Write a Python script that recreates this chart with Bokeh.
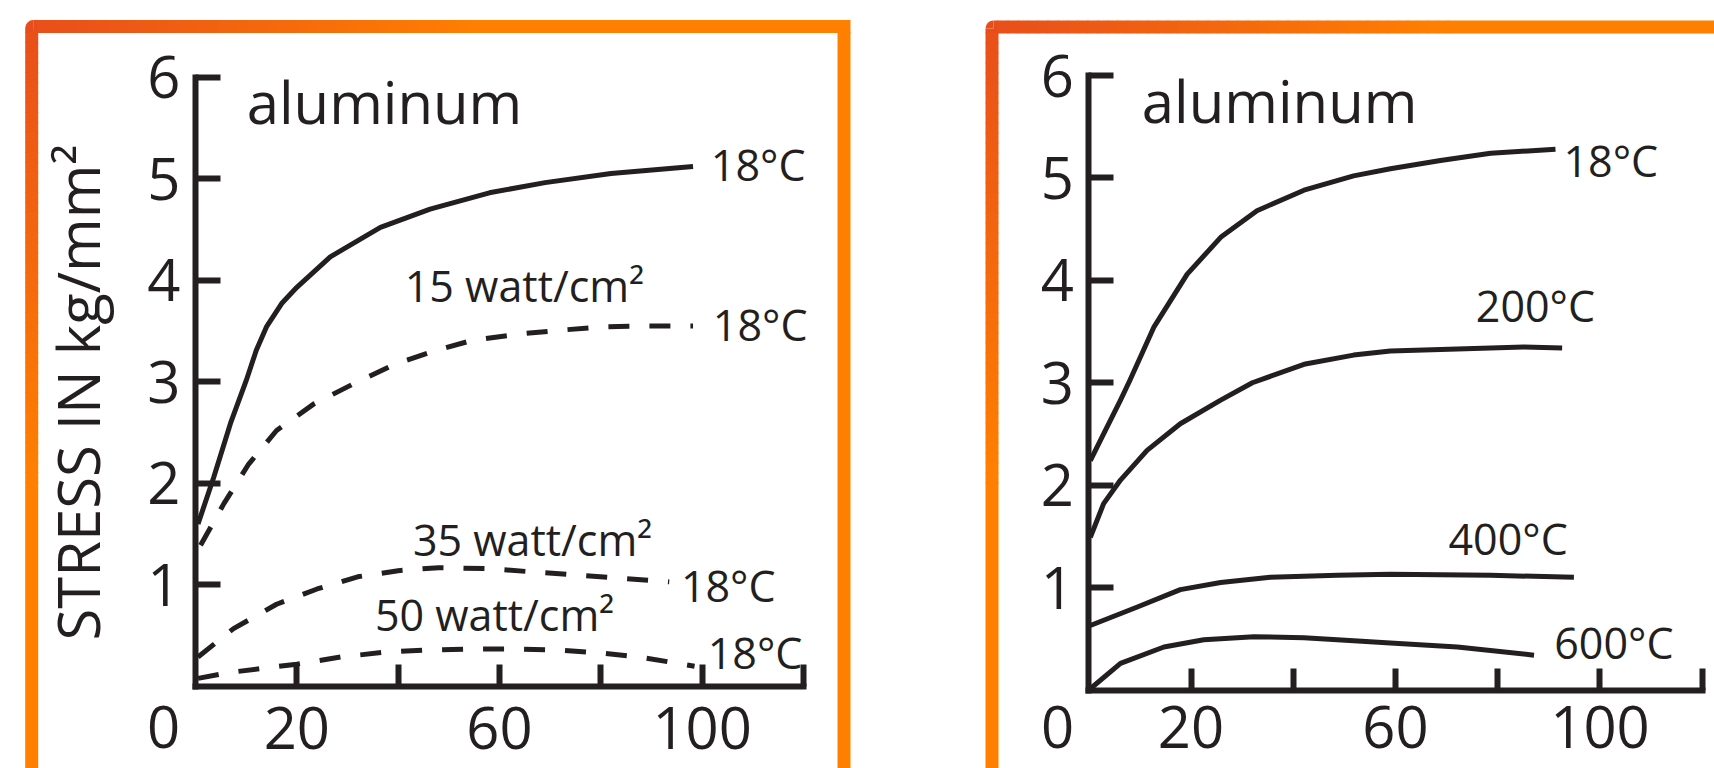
from math import pi
from bokeh.plotting import figure
from bokeh.layouts import row
from bokeh.models import Range1d, FixedTicker, Label
from bokeh.embed import file_html
from bokeh.resources import INLINE

INK = "#231F20"
FONT = "Open Sans"

# ---------------- data ----------------
x_ticks = [20, 40, 60, 80, 100, 120]
x_tick_labels = {20: "20", 40: "", 60: "60", 80: "", 100: "100", 120: ""}
y_ticks = [1, 2, 3, 4, 5, 6]

# left panel: aluminum, 18 °C, various heat fluxes
left_solid_x = [0.5, 3.6, 6.9, 10, 12, 14, 17, 20, 26.6, 36.5, 46.3, 58, 69, 82, 98.2]
left_solid_y = [1.60, 2.06, 2.59, 3.01, 3.31, 3.54, 3.77, 3.93, 4.23, 4.52, 4.70, 4.86, 4.96, 5.05, 5.12]
w15_x = [1, 5.6, 10.5, 16, 23.3, 31.2, 39.7, 47.6, 54.8, 64, 72.6, 80.5, 89, 98.2]
w15_y = [1.39, 1.80, 2.19, 2.52, 2.78, 2.98, 3.18, 3.31, 3.41, 3.47, 3.51, 3.54, 3.55, 3.55]
w35_x = [0.5, 7.5, 16, 24, 32, 40, 48, 58, 66, 74.5, 83, 93.5]
w35_y = [0.29, 0.57, 0.81, 0.96, 1.08, 1.14, 1.17, 1.16, 1.13, 1.10, 1.07, 1.03]
w50_x = [0.5, 7, 20, 28.6, 37.8, 46.3, 54.8, 62.7, 71.3, 79.8, 87.7, 98.5]
w50_y = [0.08, 0.14, 0.22, 0.29, 0.34, 0.36, 0.37, 0.37, 0.36, 0.33, 0.29, 0.20]

# right panel: aluminum at various temperatures
t18_x = [0.3, 2.9, 6.2, 8.0, 12.7, 19.25, 25.8, 32.9, 42.1, 51.8, 59, 68.8, 78.6, 91.3]
t18_y = [2.24, 2.50, 2.83, 3.02, 3.54, 4.06, 4.42, 4.68, 4.88, 5.02, 5.09, 5.17, 5.24, 5.28]
t200_x = [0.3, 2.9, 6.2, 11.4, 17.9, 25.8, 32, 42.1, 51.8, 59, 72.1, 85.1, 92.6]
t200_y = [1.49, 1.82, 2.05, 2.34, 2.60, 2.83, 3.00, 3.18, 3.27, 3.31, 3.33, 3.35, 3.34]
t400_x = [0.3, 9.5, 17.9, 25.8, 35.5, 48.6, 59, 78.6, 94.9]
t400_y = [0.63, 0.81, 0.98, 1.05, 1.10, 1.12, 1.13, 1.12, 1.10]
t600_x = [0.0, 6.2, 14.7, 22.5, 32.3, 42.1, 51.8, 59, 72.1, 87.1]
t600_y = [0.00, 0.26, 0.42, 0.49, 0.52, 0.51, 0.48, 0.46, 0.42, 0.34]

title_text = "aluminum"
y_title = "STRESS IN kg/mm²"
left_label_text = ["18°C", "15 watt/cm²", "18°C", "35 watt/cm²", "18°C", "50 watt/cm²", "18°C"]
left_label_x = [102.1, 41.7, 102.5, 43.3, 96.2, 35.8, 101.5]
left_label_y = [4.974, 3.783, 3.406, 1.290, 0.830, 0.551, 0.177]
right_label_text = ["18°C", "200°C", "400°C", "600°C"]
right_label_x = [93.26, 76.1, 70.76, 91.44]
right_label_y = [5.008, 3.592, 1.323, 0.305]

# ---------------- layout (pixels) ----------------
H = 768
W_LEFT, W_RIGHT = 968, 746
# pixel positions of data (0, 0) and (120, 6) inside each canvas
L_GEOM = dict(x0=195.0, x1=803.0, y0=686.0, y1=76.5)
R_GEOM = dict(x0=1088.3 - W_LEFT, x1=1701.7 - W_LEFT, y0=689.5, y1=75.0)
BASE_SHIFT = 0.38   # em; lifts Label text so its alphabetic baseline sits on the anchor


def mix(t):
    c0 = (232, 78, 27)
    c1 = (255, 128, 0)
    t = max(0.0, min(1.0, t))
    return "#%02x%02x%02x" % tuple(round(a + (b - a) * t) for a, b in zip(c0, c1))


def make_panel(width, g, std_x):
    sx = (g["x1"] - g["x0"]) / 120.0
    sy = (g["y0"] - g["y1"]) / 6.0
    xr = Range1d(-g["x0"] / sx, (width - g["x0"]) / sx)
    yr = Range1d((g["y0"] - H) / sy, g["y0"] / sy)
    p = figure(width=width, height=H, x_range=xr, y_range=yr,
               output_backend="svg", toolbar_location=None, min_border=0)
    p.grid.visible = False
    p.outline_line_color = None
    p.background_fill_color = "white"
    p.border_fill_color = "white"
    xa, ya = p.xaxis[0], p.yaxis[0]
    xa.ticker = FixedTicker(ticks=x_ticks)
    xa.major_label_overrides = x_tick_labels
    ya.ticker = FixedTicker(ticks=y_ticks)
    xa.fixed_location = 0
    ya.fixed_location = 0
    xa.bounds = (0, 120)
    ya.bounds = (0, 6)
    for ax in (xa, ya):
        ax.axis_line_color = INK
        ax.axis_line_width = 6
        ax.axis_line_cap = "square"
        ax.major_tick_line_color = INK
        ax.major_tick_line_width = 6
        ax.minor_tick_line_color = None
        ax.major_tick_out = 0
        ax.major_label_text_font = FONT
        ax.major_label_text_font_size = "58px"
        ax.major_label_text_color = INK
    xa.major_tick_in = 22
    ya.major_tick_in = 25
    ya.major_label_standoff = 15
    xa.major_label_standoff = std_x
    X = lambda px: (px - g["x0"]) / sx
    Y = lambda py: (g["y0"] - py) / sy
    return p, X, Y


def add_frame(p, X, Y, left, top, right, bottom, th=13, reach=460, rad=8):
    L, R, T, B, C = [], [], [], [], []

    def box(l, t, r, b, c):
        L.append(X(l)); R.append(X(r)); T.append(Y(t)); B.append(Y(b)); C.append(c)

    # rounded outer corner
    box(left + rad, top, left + th, top + th, mix(0))
    box(left, top + rad, left + rad + 0.5, top + th, mix(0))
    step = 10
    x = left + th
    while x < left + reach and x < right:
        box(x - 1, top, min(x + step, right), top + th, mix((x + step / 2 - left) / reach))
        x += step
    if x < right:
        box(x - 1, top, right, top + th, mix(1))
    y = top + th
    while y < top + reach:
        box(left, y - 1, left + th, y + step, mix((y + step / 2 - top) / reach))
        y += step
    box(left, y - 1, left + th, bottom, mix(1))
    if right < 2000:
        box(right - th, top + th - 1, right, bottom, mix(1))
    p.quad(left=L, right=R, top=T, bottom=B, fill_color=C, line_color=None)
    p.wedge(x=[X(left + rad)], y=[Y(top + rad)], radius=rad, radius_units="screen",
            start_angle=pi / 2, end_angle=pi, fill_color=mix(0), line_color=None)


def text(p, x, y, t, size, align="left", angle=0.0, dx=-2):
    lift = BASE_SHIFT * size
    if angle:
        xo, yo = -lift, 0
    else:
        xo, yo = dx, lift
    p.add_layout(Label(x=x, y=y, text=t, text_font=FONT, text_font_size=f"{size}px",
                       text_color=INK, text_align=align, text_baseline="alphabetic",
                       angle=angle, x_offset=xo, y_offset=yo))


# ---------------- left panel ----------------
pl, LX, LY = make_panel(W_LEFT, L_GEOM, 20)
add_frame(pl, LX, LY, 24.7, 19.6, 850, 800)
pl.line(left_solid_x, left_solid_y, line_color=INK, line_width=5, line_join="round")
for xs, ys in ((w15_x, w15_y), (w35_x, w35_y), (w50_x, w50_y)):
    pl.line(xs, ys, line_color=INK, line_width=5, line_dash="21 20")
text(pl, 10.5, 5.545, title_text, 58)
for x, y, t in zip(left_label_x, left_label_y, left_label_text):
    text(pl, x, y, t, 43)
text(pl, -6.32, -0.62, "0", 58, align="center", dx=0)
text(pl, -19.0, 2.894, y_title, 58, align="center", angle=pi / 2)

# ---------------- right panel ----------------
pr, RX, RY = make_panel(W_RIGHT, R_GEOM, 16)
add_frame(pr, RX, RY, 985 - W_LEFT, 20, 5000, 800)
for xs, ys in ((t18_x, t18_y), (t200_x, t200_y), (t400_x, t400_y), (t600_x, t600_y)):
    pr.line(xs, ys, line_color=INK, line_width=5, line_join="round")
text(pr, 10.76, 5.545, title_text, 58)
for x, y, t in zip(right_label_x, right_label_y, right_label_text):
    text(pr, x, y, t, 43)
text(pr, -6.12, -0.576, "0", 58, align="center", dx=0)

layout = row(pl, pr)
open("out.html", "w").write(file_html(layout, INLINE))
